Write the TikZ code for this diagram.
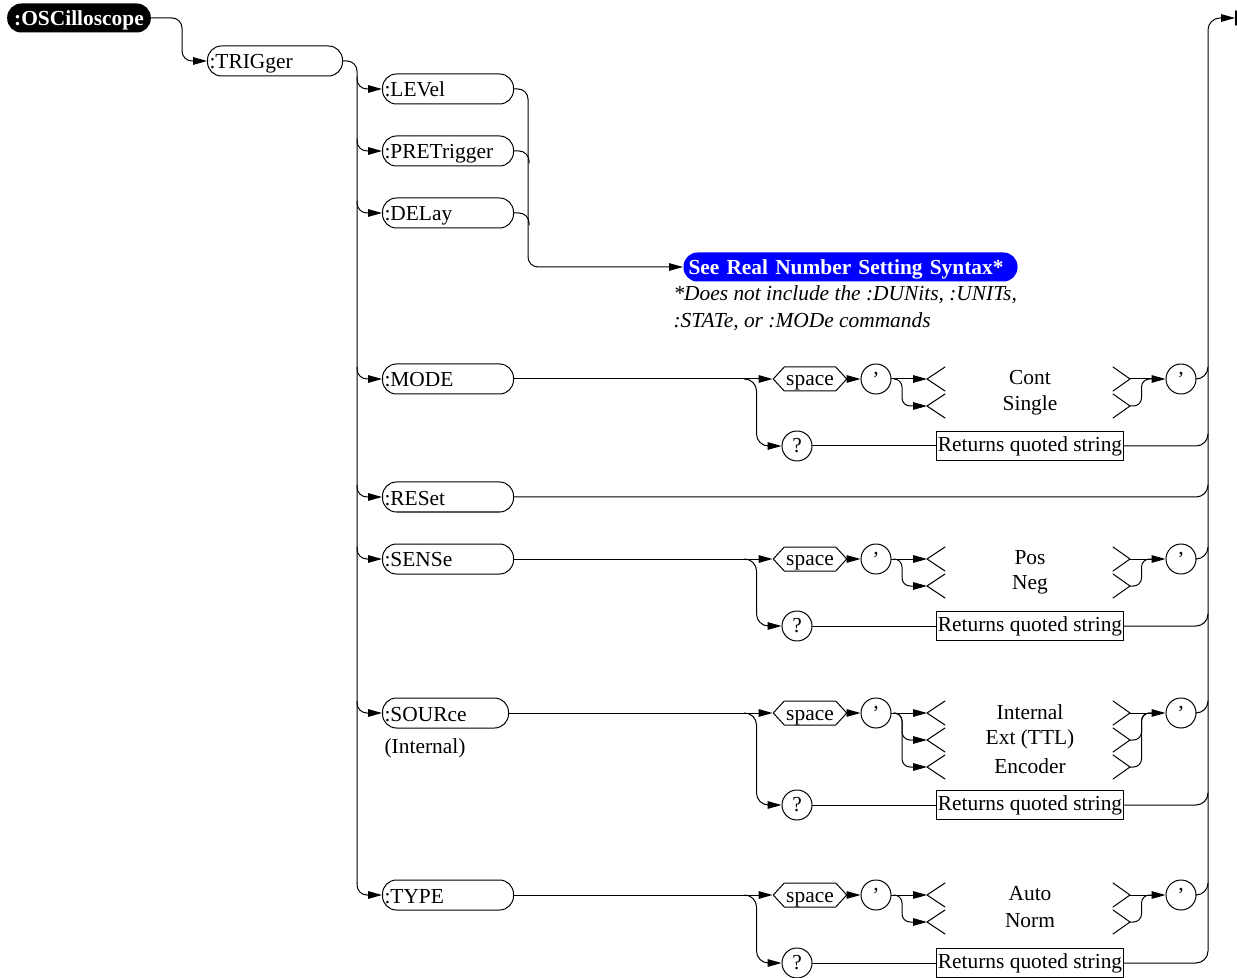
\documentclass[tikz,border=0pt]{standalone}
\usepackage{fontspec}
\setmainfont{Liberation Serif}
\usetikzlibrary{arrows.meta,calc,shapes.symbols}

\tikzset{
  kw/.style={draw, rounded corners=7pt, minimum height=15pt, inner xsep=1pt, inner ysep=0pt,
    text width=63.5pt, text height=9pt, text depth=1pt, align=left, anchor=west},
  spc/.style={draw, signal, signal to=west and east, signal pointer angle=95,
    minimum height=12pt, inner xsep=1pt, inner ysep=0pt, text height=7pt, text depth=0pt},
  circ/.style={draw, circle, minimum size=15pt, inner sep=0pt},
  ret/.style={draw, minimum height=14.5pt, inner xsep=0.5pt, inner ysep=0pt},
  lbr/.pic={\draw (18,-12) -- (0,0) -- (18,12); \coordinate (-tip) at (0,0);},
  rbr/.pic={\draw (-17,-12) -- (0,0) -- (-17,12); \coordinate (-tip) at (0,0);},
}

\begin{document}
\fontsize{10.7}{13.5}\selectfont
\begin{tikzpicture}[x=0.5pt, y=-0.5pt, line width=0.5pt, line cap=round, line join=round,
    >={Triangle[length=7pt,width=3.8pt]}]
  \useasboundingbox (0,0) rectangle (1237,978);
  % Root and subsystem.
  \node[fill=black, text=white, font=\bfseries, rounded corners=7pt, minimum height=14.5pt,
    inner xsep=3.5pt, inner ysep=0pt, text height=9pt, text depth=1pt] (osc) at (79,18) {:OSCilloscope};
  \node[kw, text width=65.5pt] (trig) at (207,61) {:TRIGger};
  % Commands.
  \node[kw] (level) at (382,89) {:LEVel};
  \node[kw] (pret) at (382,151) {:PRETrigger};
  \node[kw] (delay) at (382,213) {:DELay};
  \node[kw] (mode) at (382,379) {:MODE};
  \node[kw] (reset) at (382,497) {:RESet};
  \node[kw] (sens) at (382,559) {:SENSe};
  \node[kw, text width=61pt] (src) at (382,713) {:SOURce};
  \node (srcdef) at (425,748) {(Internal)};
  \node[kw] (type) at (382,895) {:TYPE};
  % Real number reference and its note.
  \node[fill=blue, text=white, font=\bfseries, rounded corners=7pt, minimum height=14.5pt,
    text width=162pt, inner xsep=2.5pt, inner ysep=0pt, text height=9pt, text depth=1pt,
    align=left, anchor=west] (syn) at (683,267) {See Real Number Setting Syntax*};
  \node[anchor=north west, align=left, inner sep=0pt, font=\itshape] (note) at (673,285)
    {*Does not include the :DUNits, :UNITs,\\:STATe, or :MODe commands};
  % End of the diagram.
  \coordinate (busTop) at (1208,18);
  \coordinate (endp) at (1235,18);
  \draw[line width=0.8pt] (1236,11) -- (1236,25);

  \draw[->, rounded corners=5pt] (osc.east) -| ($(trig.west)+(-25,0)$) -- (trig.west);
  % Left trunk and its branches.
  \draw[rounded corners=5pt] (trig.east) -| ($(type.west)+(-25,-12)$);
  \foreach \b in {level,pret,delay,mode,reset,sens,src,type}
    \draw[->, rounded corners=5pt] ($(\b.west)+(-25,-12)$) |- (\b.west);
  \draw[->, rounded corners=5pt] (level.east) -| ($(syn.west)+(-155,0)$) -- (syn.west);
  \foreach \b in {pret,delay}
    \draw[rounded corners=5pt] (\b.east) -| ($(\b.east)+(15,12)$);
  \draw[rounded corners=6pt] (reset.east) -| ($(reset.east -| busTop)+(0,-12)$);

  % Parameter rows.
  \foreach \nm/\ym/\yq/\opts in {mode/379/446/{Cont,Single}, sens/559/626/{Pos,Neg},
      src/713/805/{Internal,Ext (TTL),Encoder}, type/895/963/{Auto,Norm}} {
    \node[spc] (sp\nm) at (810,\ym) {space};
    \node[circ] (qa\nm) at (876,\ym) {'};
    \node[circ] (qb\nm) at (1181,\ym) {'};
    \node[circ] (qm\nm) at (797,\yq) {?};
    \node[ret] (rt\nm) at (1030,\yq) {Returns quoted string};
    \draw[->] (\nm.east) -- (sp\nm.west);
    \draw[->] (sp\nm.east) -- (qa\nm.west);
    \draw[->, rounded corners=6pt] ($(\nm.east -| qm\nm.west)+(-37,0)$) -| ($(qm\nm.west)+(-25,0)$) -- (qm\nm.west);
    \draw (qm\nm.east) -- (rt\nm.west);
    \draw[rounded corners=6pt] (qb\nm.east) -| ($(qb\nm.east -| busTop)+(0,-12)$);
    \foreach \o [count=\i] in \opts {
      \pgfmathsetmacro\yo{\ym+27*(\i-1)}
      \node (o\nm\i) at (1030,\yo-1) {\o};
      \pic (l\nm\i) at (927,\yo) {lbr};
      \pic (r\nm\i) at (1130,\yo) {rbr};
      \ifnum\i=1
        \draw[->] (qa\nm.east) -- (l\nm\i-tip);
        \draw[->] (r\nm\i-tip) -- (qb\nm.west);
      \else
        \draw[->, rounded corners=4pt] ($(qa\nm.east)+(3,0)$) -| ($(l\nm\i-tip)+(-25,0)$) -- (l\nm\i-tip);
        \draw[rounded corners=4pt] (r\nm\i-tip) -| ($(qb\nm.west)+(-24,0)$) -- ($(qb\nm.west)+(-14,0)$);
      \fi
    }
  }
  % Right trunk.
  \foreach \nm in {mode,sens,src}
    \draw[rounded corners=6pt] (rt\nm.east) -| ($(rt\nm.east -| busTop)+(0,-12)$);
  \draw[->, rounded corners=6pt] (rttype.east) -| (busTop) -- (endp);
\end{tikzpicture}
\end{document}
